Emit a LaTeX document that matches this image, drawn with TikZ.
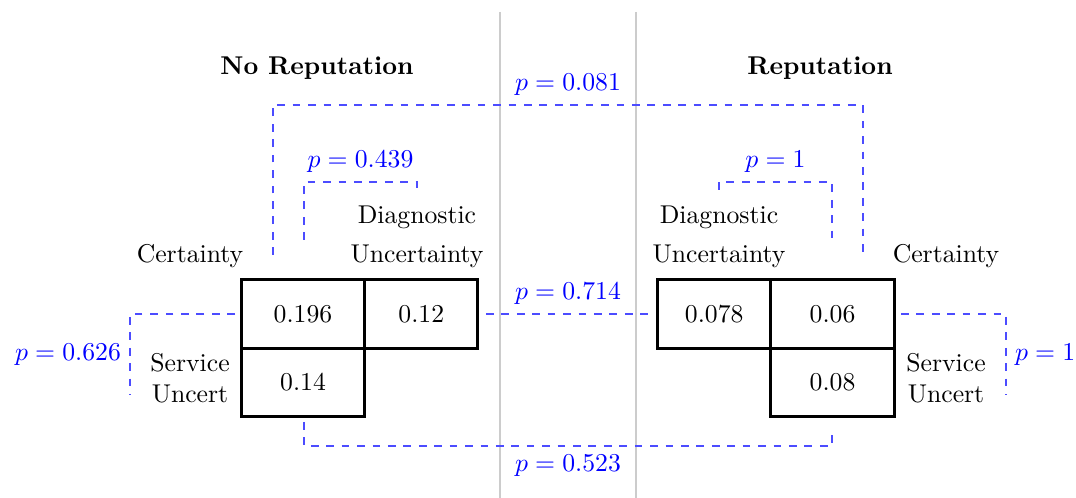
\documentclass[tikz,border=0pt]{standalone}
\usepackage{amsmath}
\usepackage{tikz}
\usetikzlibrary{positioning}

\begin{document}
\begin{tikzpicture}[
  x=0.389pt, y=-0.389pt,
  font=\normalsize,
  cell/.style={draw, very thick, minimum height=26.5pt, inner sep=0pt, outer sep=0pt},
  wide/.style={cell, minimum width=48pt},
  narrow/.style={cell, minimum width=44pt},
  lbl/.style={align=center},
  ttl/.style={font=\bfseries},
  sep/.style={gray!40, thin},
  pline/.style={blue!70, dashed, thin},
  plab/.style={text=blue}
]
\useasboundingbox (0,0) rectangle (1076,498);

%% panel titles and separators
\node[ttl] (norep) at (317,68) {No Reputation};
\node[ttl] (rep)   at (820,68) {Reputation};
\draw[sep] (500,12) -- (500,498);
\draw[sep] (636,12) -- (636,498);

%% no reputation grid
\node[wide] (c196) at (303,314) {0.196};
\node[narrow, right=0pt of c196] (c12) {0.12};
\node[wide, below=0pt of c196]   (c14) {0.14};

%% reputation grid
\node[wide] (c06) at (832.5,314) {0.06};
\node[narrow, left=0pt of c06] (c078) {0.078};
\node[wide, below=0pt of c06]  (c08)  {0.08};

%% row and column labels
\node[lbl] (certL) at (190,256) {Certainty};
\node[lbl] (diagL) at (417,237) {Diagnostic\\[3pt]Uncertainty};
\node[lbl] (servL) at (190,378) {Service\\Uncert};
\node[lbl] (certR) at (946,256) {Certainty};
\node[lbl] (diagR) at (719,237) {Diagnostic\\[3pt]Uncertainty};
\node[lbl] (servR) at (946,378) {Service\\Uncert};

%% ends of the comparison brackets
\coordinate (a081) at (273,255);  \coordinate (b081) at (863,255);
\coordinate (a439) at (304,240);  \coordinate (b439) at (417,190);
\coordinate (a1t)  at (719,190);  \coordinate (b1t)  at (832,240);
\coordinate (a714) at (486,314);  \coordinate (b714) at (650,314);
\coordinate (a626) at (235,314);  \coordinate (b626) at (130,395);
\coordinate (a1s)  at (901,314);  \coordinate (b1s)  at (1006,395);
\coordinate (a523) at (304,422);  \coordinate (b523) at (832,432);

\draw[pline] (a081) -- ++(0,-150) -| node[plab, pos=0.25, above] (p081) {$p = 0.081$} (b081);
\draw[pline] (a439) -- ++(0,-58)  -| node[plab, pos=0.25, above] (p439) {$p = 0.439$} (b439);
\draw[pline] (a1t)  -- ++(0,-8)   -| node[plab, pos=0.25, above] (p1t)  {$p = 1$} (b1t);
\draw[pline] (a714) -- node[plab, above] (p714) {$p = 0.714$} (b714);
\draw[pline] (a626) -| node[plab, pos=0.75, left]  (p626) {$p = 0.626$} (b626);
\draw[pline] (a1s)  -| node[plab, pos=0.75, right] (p1s)  {$p = 1$} (b1s);
\draw[pline] (a523) -- ++(0,24)   -| node[plab, pos=0.25, below] (p523) {$p = 0.523$} (b523);
\end{tikzpicture}
\end{document}
